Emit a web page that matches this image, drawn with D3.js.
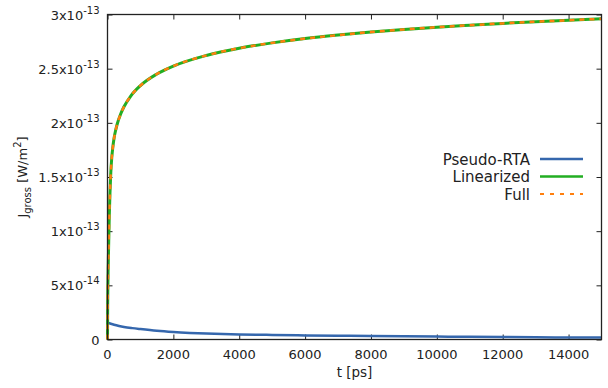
<!DOCTYPE html>
<html>
<head>
<meta charset="utf-8">
<script src="https://cdn.jsdelivr.net/npm/d3@7"></script>
<style>
  body { margin: 0; background: #fff; }
  text { font-family: "DejaVu Sans", sans-serif; fill: #222; }
</style>
</head>
<body>
<svg id="chart" width="608" height="388"></svg>
<script>
// time axis [ps]
const tPseudo = [0, 100, 200, 350, 500, 750, 1000, 1500, 2000, 2500, 3000, 4000, 5000, 6000, 7000, 8000, 9000, 10000, 11000, 12000, 13000, 14000, 15000];
const jPseudo = [1.55e-14, 1.45e-14, 1.36e-14, 1.25e-14, 1.16e-14, 1.05e-14, 0.96e-14, 0.80e-14, 0.69e-14, 0.61e-14, 0.55e-14, 0.47e-14, 0.42e-14, 0.38e-14, 0.35e-14, 0.32e-14, 0.295e-14, 0.27e-14, 0.245e-14, 0.225e-14, 0.205e-14, 0.19e-14, 0.175e-14];

const tFull = [0, 5, 12, 20, 30, 40, 55, 75, 100, 130, 160, 200, 250, 300, 400, 500, 700, 1000, 1500, 2000, 3000, 4000, 5000, 6000, 7000, 8000, 9000, 10000, 11000, 12000, 13000, 14000, 15000];
const jLinear = [0, 0.3e-13, 0.5e-13, 0.65e-13, 0.8e-13, 0.95e-13, 1.15e-13, 1.35e-13, 1.54e-13, 1.68e-13, 1.77e-13, 1.86e-13, 1.935e-13, 1.994e-13, 2.082e-13, 2.148e-13, 2.245e-13, 2.344e-13, 2.451e-13, 2.524e-13, 2.622e-13, 2.689e-13, 2.738e-13, 2.778e-13, 2.81e-13, 2.838e-13, 2.862e-13, 2.883e-13, 2.901e-13, 2.918e-13, 2.933e-13, 2.947e-13, 2.96e-13];
const jFull = jLinear.slice();

const xTicks = [0, 2000, 4000, 6000, 8000, 10000, 12000, 14000];
const yTicks = [0, 5e-14, 1e-13, 1.5e-13, 2e-13, 2.5e-13, 3e-13];
const yTickMant = ["0", "5", "1", "1.5", "2", "2.5", "3"];
const yTickExp = [null, "-14", "-13", "-13", "-13", "-13", "-13"];

const seriesNames = ["Pseudo-RTA", "Linearized", "Full"];
const seriesColors = ["#3567ad", "#22ae22", "#ff7f0e"];

const svg = d3.select("#chart");
const pL = 107.5, pR = 601.5, pT = 14.5, pB = 339.5;

const x = d3.scaleLinear().domain([0, 15000]).range([pL, pR]);
const y = d3.scaleLinear().domain([0, 3e-13]).range([pB, pT]);

// ticks on all four sides, pointing inward
svg.append("g").attr("transform", `translate(0,${pB})`)
  .call(d3.axisBottom(x).tickValues(xTicks).tickSize(-5).tickFormat(""))
  .call(g => g.select(".domain").remove());
svg.append("g").attr("transform", `translate(0,${pT})`)
  .call(d3.axisTop(x).tickValues(xTicks).tickSize(-5).tickFormat(""))
  .call(g => g.select(".domain").remove());
svg.append("g").attr("transform", `translate(${pL},0)`)
  .call(d3.axisLeft(y).tickValues(yTicks).tickSize(-5).tickFormat(""))
  .call(g => g.select(".domain").remove());
svg.append("g").attr("transform", `translate(${pR},0)`)
  .call(d3.axisRight(y).tickValues(yTicks).tickSize(-5).tickFormat(""))
  .call(g => g.select(".domain").remove());
svg.selectAll(".tick line").attr("stroke", "#222");

// x tick labels
svg.append("g").selectAll("text").data(xTicks).enter().append("text")
  .attr("x", d => x(d)).attr("y", pB + 19)
  .attr("text-anchor", "middle").attr("font-size", 13)
  .text(d => d);

// y tick labels with powers of ten
const yl = svg.append("g").selectAll("text").data(yTicks).enter().append("text")
  .attr("x", pL - 8).attr("y", d => y(d) + 5)
  .attr("text-anchor", "end").attr("font-size", 13);
yl.each(function(d, i) {
  const t = d3.select(this);
  if (yTickExp[i] === null) { t.text(yTickMant[i]); return; }
  t.append("tspan").text(yTickMant[i] + "x10");
  t.append("tspan").attr("dy", -6).attr("font-size", 10).text(yTickExp[i]);
});

// lines
const lineGen = (ts, js) => d3.line().curve(d3.curveMonotoneX)
  .x((d, i) => x(ts[i])).y((d, i) => y(js[i]))(js);

const plot = svg.append("g");
plot.append("path").attr("d", lineGen(tPseudo, jPseudo))
  .attr("fill", "none").attr("stroke", seriesColors[0]).attr("stroke-width", 2.5);
plot.append("path").attr("d", lineGen(tFull, jLinear))
  .attr("fill", "none").attr("stroke", seriesColors[1]).attr("stroke-width", 3);
plot.append("path").attr("d", lineGen(tFull, jFull))
  .attr("fill", "none").attr("stroke", seriesColors[2]).attr("stroke-width", 2.5)
  .attr("stroke-dasharray", "5,5");

// frame
svg.append("rect").attr("x", pL).attr("y", pT)
  .attr("width", pR - pL).attr("height", pB - pT)
  .attr("fill", "none").attr("stroke", "#222").attr("stroke-width", 1.3);

// legend
const legY = [159, 176.5, 194];
const leg = svg.append("g");
seriesNames.forEach((name, i) => {
  leg.append("text").attr("x", 530).attr("y", legY[i] + 5.5)
    .attr("text-anchor", "end").attr("font-size", 15).text(name);
  leg.append("line").attr("x1", 540).attr("x2", 583)
    .attr("y1", legY[i]).attr("y2", legY[i])
    .attr("stroke", seriesColors[i]).attr("stroke-width", i === 2 ? 2 : 2.5)
    .attr("stroke-dasharray", i === 2 ? "4,6" : null);
});

// axis titles
svg.append("text").attr("x", (pL + pR) / 2).attr("y", 377)
  .attr("text-anchor", "middle").attr("font-size", 13.5).text("t [ps]");

const yt = svg.append("text")
  .attr("transform", `translate(27,${(pT + pB) / 2}) rotate(-90)`)
  .attr("text-anchor", "middle").attr("font-size", 13);
yt.append("tspan").text("J");
yt.append("tspan").attr("dy", 4).attr("font-size", 10).text("gross");
yt.append("tspan").attr("dy", -4).text(" [W/m");
yt.append("tspan").attr("dy", -6).attr("font-size", 10).text("2");
yt.append("tspan").attr("dy", 6).text("]");
</script>
</body>
</html>
